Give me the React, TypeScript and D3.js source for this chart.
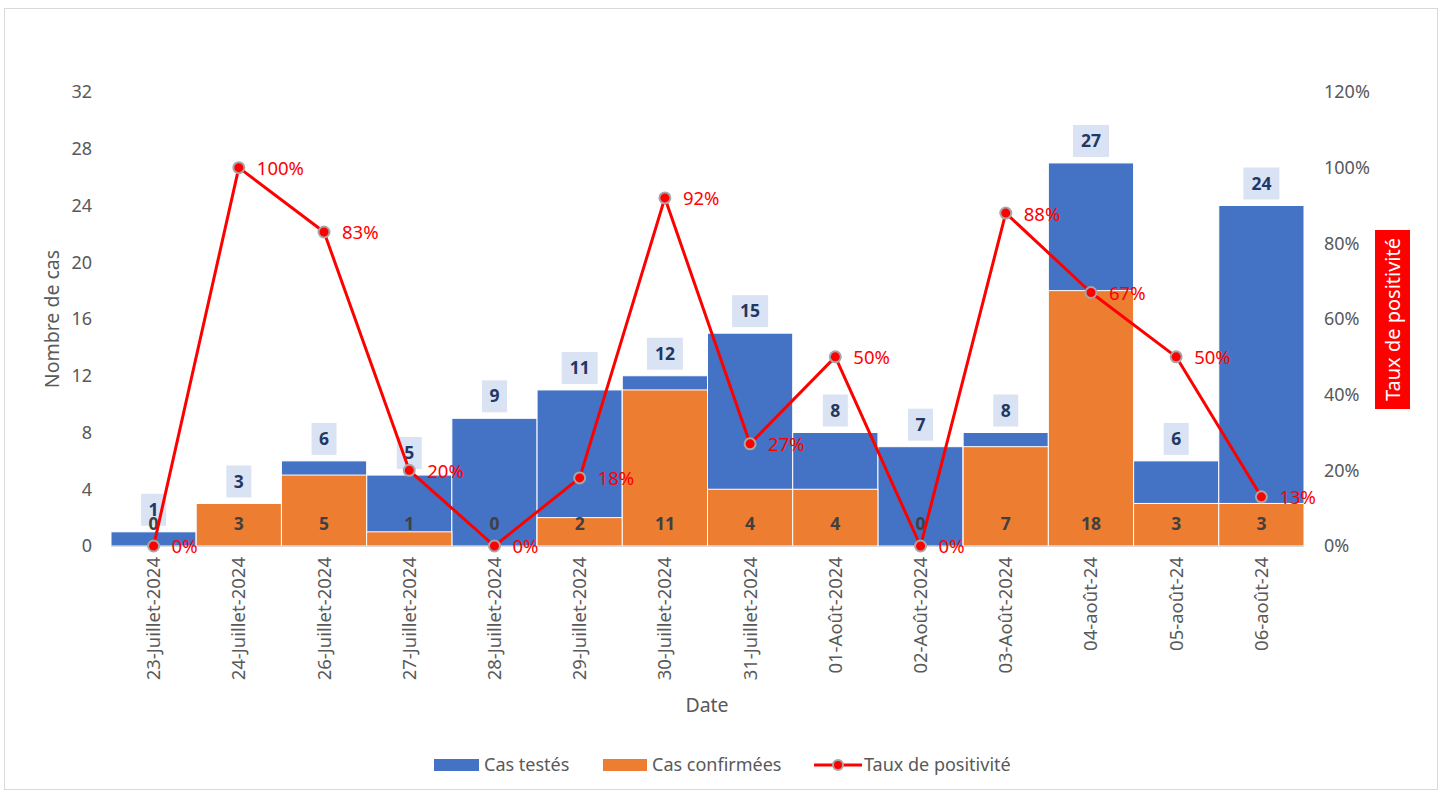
import React from "react";
import * as d3 from "d3";

const categories = [
  "23-Juillet-2024", "24-Juillet-2024", "26-Juillet-2024", "27-Juillet-2024",
  "28-Juillet-2024", "29-Juillet-2024", "30-Juillet-2024", "31-Juillet-2024",
  "01-Août-2024", "02-Août-2024", "03-Août-2024", "04-août-24", "05-août-24", "06-août-24",
];
const casTestes = [1, 3, 6, 5, 9, 11, 12, 15, 8, 7, 8, 27, 6, 24];
const casConfirmes = [0, 3, 5, 1, 0, 2, 11, 4, 4, 0, 7, 18, 3, 3];
const tauxPositivite = [0, 100, 83, 20, 0, 18, 92, 27, 50, 0, 88, 67, 50, 13];
const leftTicks = [0, 4, 8, 12, 16, 20, 24, 28, 32];
const rightTicks = [0, 20, 40, 60, 80, 100, 120];

const W = 1442, H = 793;
const FONT = "'Noto Sans', 'Open Sans', sans-serif";
const BLUE = "#4472c4", ORANGE = "#ed7d31", RED = "#ff0000";
const GRAY = "#595959";

export default function App() {
  const left = 111, right = 1304, top = 92, bottom = 546;
  const x = d3.scaleBand<string>().domain(categories).range([left, right]).padding(0);
  const y = d3.scaleLinear().domain([0, 32]).range([bottom, top]);
  const y2 = d3.scaleLinear().domain([0, 120]).range([bottom, top]);
  const bw = x.bandwidth();
  const cx = (c: string) => (x(c) as number) + bw / 2;
  const line = d3.line<number>().x((_, i) => cx(categories[i])).y((d) => y2(d));

  return (
    <svg width={W} height={H} style={{ position: "absolute", left: 0, top: 0, fontFamily: FONT }}>
      <rect x={4.5} y={8.5} width={1433} height={781} fill="#fff" stroke="#d9d9d9" />
      {leftTicks.map((t) => (
        <text key={"l" + t} x={92} y={y(t)} dy="0.35em" textAnchor="end" fontSize={18} fill={GRAY}>{t}</text>
      ))}
      {rightTicks.map((t) => (
        <text key={"r" + t} x={1324} y={y2(t)} dy="0.35em" textAnchor="start" fontSize={18} fill={GRAY}>{t}%</text>
      ))}
      {categories.map((c, i) => (
        <rect key={"b" + c} x={x(c)} y={y(casTestes[i])} width={bw} height={bottom - y(casTestes[i])} fill={BLUE} stroke="#fff" strokeWidth={1} />
      ))}
      {categories.map((c, i) => casConfirmes[i] > 0 ? (
        <rect key={"o" + c} x={x(c)} y={y(casConfirmes[i])} width={bw} height={bottom - y(casConfirmes[i])} fill={ORANGE} stroke="#fff" strokeWidth={1} />
      ) : null)}
      <line x1={left} x2={right} y1={bottom + 0.5} y2={bottom + 0.5} stroke="#d9d9d9" />
      {categories.map((c, i) => {
        const ty = y(casTestes[i]) - 22;
        const s = String(casTestes[i]);
        const bwid = s.length * 11 + 14;
        return (
          <g key={"bl" + c}>
            <rect x={cx(c) - bwid / 2} y={ty - 16} width={bwid} height={32} fill="#dae3f3" />
            <text x={cx(c)} y={ty} dy="0.35em" textAnchor="middle" fontSize={17.5} fontWeight="bold" fill="#1f3864">{s}</text>
          </g>
        );
      })}
      {categories.map((c, i) => (
        <text key={"ol" + c} x={cx(c)} y={bottom - 22} dy="0.35em" textAnchor="middle" fontSize={17.5} fontWeight="bold" fill="#404040">{casConfirmes[i]}</text>
      ))}
      <path d={line(tauxPositivite) || ""} fill="none" stroke={RED} strokeWidth={3} strokeLinejoin="round" />
      {tauxPositivite.map((v, i) => (
        <g key={"p" + i}>
          <circle cx={cx(categories[i])} cy={y2(v)} r={5.5} fill={RED} stroke="#a6a6a6" strokeWidth={2} />
          <text x={cx(categories[i]) + 18} y={y2(v) + 1} dy="0.35em" fontSize={18.5} fill={RED}>{v}%</text>
        </g>
      ))}
      {categories.map((c) => (
        <text key={"c" + c} transform={`translate(${cx(c)},${557}) rotate(-90)`} dy="0.35em" textAnchor="end" fontSize={18.5} fill={GRAY}>{c}</text>
      ))}
      <text x={707} y={705} dy="0.35em" textAnchor="middle" fontSize={19.5} fill={GRAY}>Date</text>
      <text transform={`translate(52,319) rotate(-90)`} dy="0.35em" textAnchor="middle" fontSize={19.5} fill={GRAY}>Nombre de cas</text>
      <rect x={1375} y={230} width={35} height={179} fill={RED} />
      <text transform={`translate(1393,319.5) rotate(-90)`} dy="0.35em" textAnchor="middle" fontSize={20} fill="#fff">Taux de positivité</text>
      <rect x={434} y={759} width={45} height={12} fill={BLUE} />
      <text x={484} y={765} dy="0.35em" fontSize={18} fill={GRAY}>Cas testés</text>
      <rect x={603} y={759} width={44} height={12} fill={ORANGE} />
      <text x={652} y={765} dy="0.35em" fontSize={18} fill={GRAY}>Cas confirmées</text>
      <line x1={814} x2={862} y1={765} y2={765} stroke={RED} strokeWidth={3} />
      <circle cx={838} cy={765} r={5} fill={RED} stroke="#a6a6a6" strokeWidth={2} />
      <text x={864} y={765} dy="0.35em" fontSize={18} fill={GRAY}>Taux de positivité</text>
    </svg>
  );
}
